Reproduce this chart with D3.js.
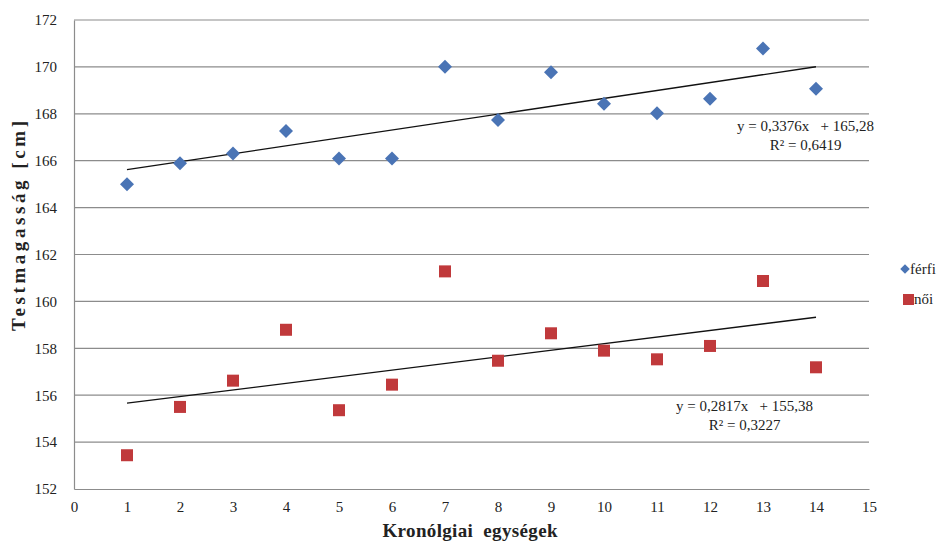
<!DOCTYPE html>
<html>
<head>
<meta charset="utf-8">
<script src="https://cdn.jsdelivr.net/npm/d3@7"></script>
<style>
body { margin: 0; background: #fff; }
svg text { font-family: "Liberation Serif", "Times New Roman", Tinos, "DejaVu Serif", serif; fill: #222; white-space: pre; }
</style>
</head>
<body>
<div id="chart"></div>
<script>
// data
var units = [1, 2, 3, 4, 5, 6, 7, 8, 9, 10, 11, 12, 13, 14]
var ferfi = [165.0, 165.89, 166.31, 167.27, 166.09, 166.09, 170.01, 167.74, 169.77, 168.43, 168.02, 168.64, 170.78, 169.07]
var noi = [153.44, 155.5, 156.62, 158.79, 155.36, 156.45, 161.28, 157.47, 158.64, 157.9, 157.53, 158.1, 160.87, 157.19]
// trend lines as printed on the chart
var ferfiTrend = [0.3376, 165.28]
var noiTrend = [0.2817, 155.38]
var ferfiLabels = ["y = 0,3376x   + 165,28", "R² = 0,6419"]
var noiLabels = ["y = 0,2817x   + 155,38", "R² = 0,3227"]
var yTicks = [152, 154, 156, 158, 160, 162, 164, 166, 168, 170, 172]
var xTicks = [0, 1, 2, 3, 4, 5, 6, 7, 8, 9, 10, 11, 12, 13, 14, 15]

var serif = '"Liberation Serif", "Times New Roman", Tinos, serif'
var W = 943, H = 545
var margin = {top: 20, right: 74, bottom: 56, left: 74}
var width = W - margin.left - margin.right,
    height = H - margin.top - margin.bottom

var svg = d3.select("#chart").append("svg")
    .attr("width", W).attr("height", H)
    .attr("font-family", serif)
var g = svg.append("g")
    .attr("transform", "translate(" + margin.left + "," + margin.top + ")")

var x = d3.scaleLinear().domain([0, 15]).range([0, width])
var y = d3.scaleLinear().domain([152, 172]).range([height, 0])

// horizontal grid lines
g.selectAll(".grid").data(yTicks.slice(1)).enter().append("line")
    .attr("x1", 0).attr("x2", width)
    .attr("y1", function(d) { return y(d) }).attr("y2", function(d) { return y(d) })
    .attr("stroke", "#8c8c8c").attr("stroke-width", 1.2)

// axes
var yAxis = d3.axisLeft(y).tickValues(yTicks).tickSize(0).tickPadding(17)
var gy = g.append("g").call(yAxis).attr("font-family", serif)
gy.select(".domain").attr("stroke", "#8c8c8c").attr("stroke-width", 1.2)
gy.selectAll("text").style("font-size", "15px").attr("fill", "#222")

var xAxis = d3.axisBottom(x).tickValues(xTicks).tickSize(0).tickPadding(12)
var gx = g.append("g").attr("transform", "translate(0," + height + ")").call(xAxis).attr("font-family", serif)
gx.select(".domain").attr("stroke", "#8c8c8c").attr("stroke-width", 1.2)
gx.selectAll("text").style("font-size", "15px").attr("fill", "#222")

// axis titles
svg.append("text")
    .attr("transform", "translate(25,226) rotate(-90)")
    .attr("text-anchor", "middle")
    .attr("textLength", 210).attr("lengthAdjust", "spacing")
    .style("font-size", "19px").style("font-weight", "bold")
    .text("Testmagasság [cm]")
svg.append("text")
    .attr("x", 470).attr("y", 537)
    .attr("text-anchor", "middle")
    .attr("textLength", 175).attr("lengthAdjust", "spacing")
    .style("font-size", "19px").style("font-weight", "bold")
    .text("Kronólgiai  egységek")

// trend lines from x=1 to x=14
function trendLine(coef) {
    var xs = [units[0], units[units.length - 1]]
    g.append("line")
        .attr("x1", x(xs[0])).attr("y1", y(coef[0] * xs[0] + coef[1]))
        .attr("x2", x(xs[1])).attr("y2", y(coef[0] * xs[1] + coef[1]))
        .attr("stroke", "#111").attr("stroke-width", 1.3)
}
trendLine(ferfiTrend)
trendLine(noiTrend)

// points: square turned 45 degrees for the diamonds
var diamond = d3.symbol().type(d3.symbolSquare).size(98)
g.selectAll(".ferfi").data(units).enter().append("path")
    .attr("d", diamond)
    .attr("transform", function(d, i) { return "translate(" + x(d) + "," + y(ferfi[i]) + ") rotate(45)" })
    .attr("fill", "#4a74b5")

g.selectAll(".noi").data(units).enter().append("rect")
    .attr("x", function(d) { return x(d) - 6 })
    .attr("y", function(d, i) { return y(noi[i]) - 6 })
    .attr("width", 12).attr("height", 12)
    .attr("fill", "#c0393b")

// trend labels, second line centred under the first
function trendText(lines, right, cy) {
    var t0 = svg.append("text")
        .attr("x", right).attr("y", cy)
        .attr("text-anchor", "end")
        .style("font-size", "15px")
        .text(lines[0])
    var w = t0.node().getComputedTextLength()
    svg.append("text")
        .attr("x", right - w / 2).attr("y", cy + 19)
        .attr("text-anchor", "middle")
        .style("font-size", "15px")
        .text(lines[1])
}
trendText(ferfiLabels, 874, 131)
trendText(noiLabels, 813, 411)

// legend
var legend = svg.append("g")
legend.append("path").attr("d", d3.symbol().type(d3.symbolSquare).size(45))
    .attr("transform", "translate(905,269) rotate(45)").attr("fill", "#4a74b5")
legend.append("text").attr("x", 910).attr("y", 274).style("font-size", "15px").text("férfi")
legend.append("rect").attr("x", 903).attr("y", 294).attr("width", 11).attr("height", 11).attr("fill", "#c0393b")
legend.append("text").attr("x", 914).attr("y", 304).style("font-size", "15px").text("női")
</script>
</body>
</html>
